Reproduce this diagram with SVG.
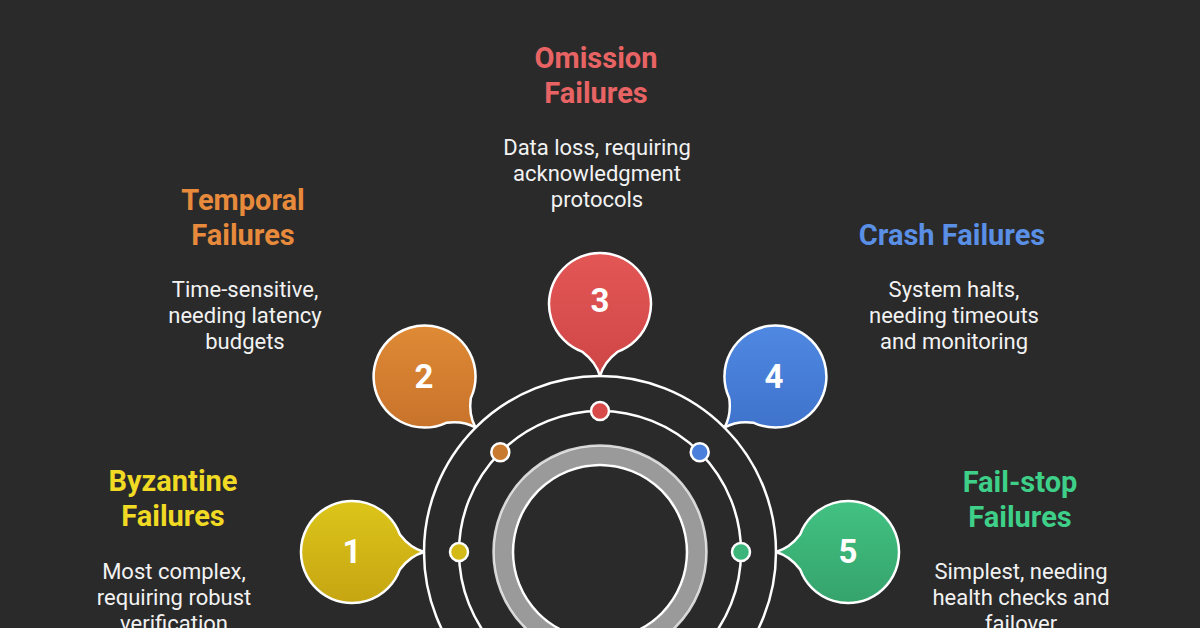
<svg xmlns="http://www.w3.org/2000/svg" width="1200" height="628" viewBox="0 0 1200 628">
<style>
.title{font-family:Roboto,"Liberation Sans",sans-serif;font-weight:700;font-size:29px;text-anchor:middle}
.desc{font-family:Roboto,"Liberation Sans",sans-serif;font-size:22px;fill:#f2f2f2;text-anchor:middle}
.num{font-family:Roboto,"Liberation Sans",sans-serif;font-weight:700;font-size:33px;fill:#ffffff;text-anchor:middle}
.bub{stroke:#ffffff;stroke-width:2.5;stroke-linejoin:round}
.ring{fill:none;stroke:#ffffff;stroke-width:2.5}
.dot{stroke:#ffffff;stroke-width:2.5}
</style>
<defs>
<linearGradient id="gY" x1="0" y1="0" x2="0" y2="1"><stop offset="0" stop-color="#dcc51a"/><stop offset="1" stop-color="#c6a512"/></linearGradient>
<linearGradient id="gO" x1="0" y1="0" x2="0" y2="1"><stop offset="0" stop-color="#df8a35"/><stop offset="1" stop-color="#c8732b"/></linearGradient>
<linearGradient id="gR" x1="0" y1="0" x2="0" y2="1"><stop offset="0" stop-color="#e35656"/><stop offset="1" stop-color="#cf4646"/></linearGradient>
<linearGradient id="gB" x1="0" y1="0" x2="0" y2="1"><stop offset="0" stop-color="#4f88e2"/><stop offset="1" stop-color="#3f73cc"/></linearGradient>
<linearGradient id="gG" x1="0" y1="0" x2="0" y2="1"><stop offset="0" stop-color="#42c282"/><stop offset="1" stop-color="#35a36c"/></linearGradient>
</defs>
<rect width="1200" height="628" fill="#2a2a2a"/>

<g id="connectors">
<circle class="ring" cx="600" cy="552" r="176"/>
<circle class="ring" cx="600" cy="552" r="141"/>
<circle cx="600" cy="552" r="97" fill="none" stroke="#9a9a9a" stroke-width="18"/>
<circle class="ring" cx="600" cy="552" r="87" stroke-width="2.5"/>
<circle class="ring" cx="600" cy="552" r="106.5" stroke-width="1.5" stroke-opacity="0.8"/>
</g>

<g id="dots">
<circle class="dot" cx="459" cy="552" r="9" fill="#d4ba16"/>
<circle class="dot" cx="500.3" cy="452.3" r="9" fill="#c87a30"/>
<circle class="dot" cx="600" cy="411" r="9" fill="#d84a4a"/>
<circle class="dot" cx="699.7" cy="452.3" r="9" fill="#4a80dc"/>
<circle class="dot" cx="741" cy="552" r="9" fill="#3cb57a"/>
</g>

<g id="node1">
<path class="bub" fill="url(#gY)" d="M 399.9 534.6 A 51 51 0 1 0 399.9 569.4 Q 410 556 424 552 Q 410 548 399.9 534.6 Z"/>
<text class="num" x="352" y="563">1</text>
<text class="title" x="173" y="491" fill="#f0da24">Byzantine</text>
<text class="title" x="173" y="526" fill="#f0da24">Failures</text>
<text class="desc" x="174" y="579">Most complex,</text>
<text class="desc" x="174" y="605">requiring robust</text>
<text class="desc" x="174" y="631">verification</text>
</g>

<g id="node2">
<path class="bub" fill="url(#gO)" d="M 470.77 398.17 A 51 51 0 1 0 446.17 422.77 Q 462.78 420.44 475.51 427.51 Q 468.44 414.78 470.77 398.17 Z"/>
<text class="num" x="424" y="388">2</text>
<text class="title" x="243" y="210" fill="#e88a3c">Temporal</text>
<text class="title" x="243" y="245" fill="#e88a3c">Failures</text>
<text class="desc" x="245" y="297">Time-sensitive,</text>
<text class="desc" x="245" y="323">needing latency</text>
<text class="desc" x="245" y="349">budgets</text>
</g>

<g id="node3">
<path class="bub" fill="url(#gR)" d="M 617.4 351.9 A 51 51 0 1 0 582.6 351.9 Q 596 362 600 376 Q 604 362 617.4 351.9 Z"/>
<text class="num" x="600" y="312">3</text>
<text class="title" x="596" y="68" fill="#e86464">Omission</text>
<text class="title" x="596" y="103" fill="#e86464">Failures</text>
<text class="desc" x="597" y="155">Data loss, requiring</text>
<text class="desc" x="597" y="181">acknowledgment</text>
<text class="desc" x="597" y="207">protocols</text>
</g>

<g id="node4">
<path class="bub" fill="url(#gB)" d="M 753.83 422.77 A 51 51 0 1 0 729.23 398.17 Q 731.56 414.78 724.49 427.51 Q 737.22 420.44 753.83 422.77 Z"/>
<text class="num" x="774" y="388">4</text>
<text class="title" x="952" y="245" fill="#5a8fe6">Crash Failures</text>
<text class="desc" x="954" y="297">System halts,</text>
<text class="desc" x="954" y="323">needing timeouts</text>
<text class="desc" x="954" y="349">and monitoring</text>
</g>

<g id="node5">
<path class="bub" fill="url(#gG)" d="M 800.1 569.4 A 51 51 0 1 0 800.1 534.6 Q 790 548 776 552 Q 790 556 800.1 569.4 Z"/>
<text class="num" x="848" y="563">5</text>
<text class="title" x="1020" y="492" fill="#3ecf88">Fail-stop</text>
<text class="title" x="1020" y="527" fill="#3ecf88">Failures</text>
<text class="desc" x="1021" y="579">Simplest, needing</text>
<text class="desc" x="1021" y="605">health checks and</text>
<text class="desc" x="1021" y="631">failover</text>
</g>
</svg>
